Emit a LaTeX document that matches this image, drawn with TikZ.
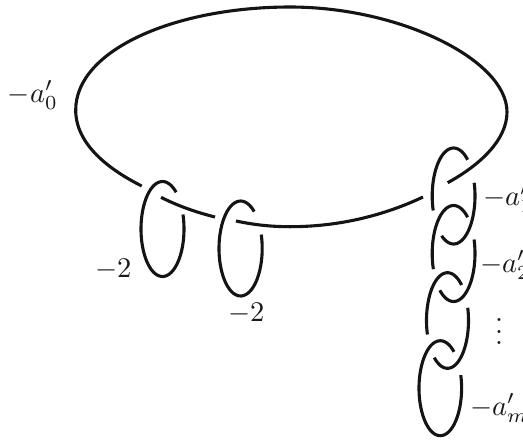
\documentclass[tikz,border=0pt]{standalone}
\tikzset{
  knot/.style={line width=3.1pt,black!92,line cap=butt},
  lab/.style={anchor=base west,inner sep=0pt,outer sep=0pt,scale=2.85,black!90}
}
\newcommand{\ringarc}[6]{%
  \draw[knot] plot[domain=#5:#6,samples=60,smooth] ({#1+#3*cos(\x)},{#2-#4*sin(\x)});}
\begin{document}
\begin{tikzpicture}[x=1pt,y=-1pt]
\useasboundingbox (0,0) rectangle (523,440);
\clip (0,0) rectangle (523,440);
% large unknot, three arcs
\draw[knot] (447.7,182.7) .. controls (480,165) and (507,140) .. (507,112)
  .. controls (507,60) and (400,7) .. (290,7)
  .. controls (175,7) and (75.7,50) .. (75.7,110)
  .. controls (75.7,145) and (110,170) .. (141.7,186);
\draw[knot] (161,197.3) .. controls (178,206) and (197,212.5) .. (215,217);
\draw[knot] (236,221) .. controls (255,225) and (272,226.7) .. (290,226.7)
  .. controls (340,226.7) and (385,215) .. (423,197);
% -2 rings
\ringarc{162.5}{229}{21.5}{47.5}{50.6}{377.8}
\ringarc{240.6}{248.5}{21.6}{47.5}{51}{377}
% chain
\ringarc{453.6}{196}{21.4}{48}{49}{197.6}
\ringarc{453.6}{196}{21.4}{48}{16}{-124}
\ringarc{453.6}{253.5}{21.4}{48}{49}{199}
\ringarc{453.6}{253.5}{21.4}{48}{17}{-130}
\ringarc{447.5}{320.5}{21}{47.8}{48}{197}
\ringarc{447.5}{320.5}{21}{47.8}{15.5}{-129}
\ringarc{440.3}{388.2}{21.3}{47.5}{50}{376}
% labels
\node[lab] (a0) at (8,102) {$-a'_0$};
\node[lab] (a1) at (483,205.5) {$-a'_1$};
\node[lab] (a2) at (480,272) {$-a'_2$};
\node[lab] (am) at (470,415) {$-a'_m$};
\node[lab] (d1) at (95,277) {$-2$};
\node[lab] (d2) at (228,321) {$-2$};
\node[inner sep=0pt,scale=2.85,black!90] (dots) at (499,323) {$\vdots$};
\end{tikzpicture}
\end{document}
